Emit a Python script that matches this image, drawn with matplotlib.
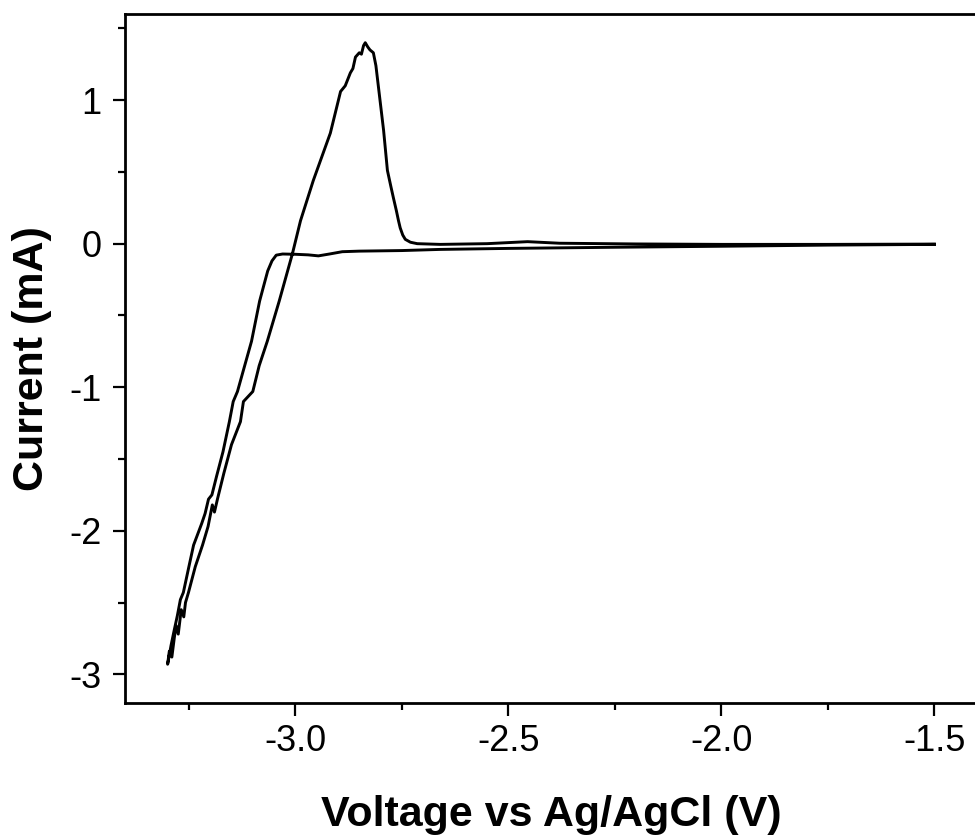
import matplotlib.pyplot as plt
from matplotlib.ticker import MultipleLocator

plt.rcParams['font.family'] = ['Liberation Sans', 'DejaVu Sans']

# cathodic sweep: -1.5 V -> -3.3 V
v_cath = [-1.50, -1.75, -2.00, -2.25, -2.50, -2.66, -2.75, -2.85, -2.89, -2.92,
          -2.946, -2.97, -3.00, -3.03, -3.045, -3.055, -3.065, -3.075, -3.084,
          -3.103, -3.120, -3.136, -3.146, -3.155, -3.170, -3.185, -3.196, -3.204,
          -3.212, -3.220, -3.239, -3.250, -3.263, -3.270, -3.277, -3.285,
          -3.292, -3.298, -3.300]
i_cath = [-0.005, -0.010, -0.018, -0.025, -0.033, -0.040, -0.048, -0.052, -0.056, -0.072,
          -0.085, -0.078, -0.074, -0.072, -0.080, -0.12, -0.19, -0.30, -0.40,
          -0.68, -0.86, -1.03, -1.10, -1.24, -1.45, -1.62, -1.75, -1.78,
          -1.88, -1.95, -2.10, -2.25, -2.43, -2.48, -2.59, -2.70,
          -2.80, -2.90, -2.93]

# anodic sweep: -3.3 V -> -1.5 V
v_anod = [-3.300, -3.296, -3.290, -3.284, -3.280, -3.275, -3.268, -3.262, -3.258,
          -3.251, -3.235, -3.218, -3.205, -3.195, -3.190, -3.183, -3.168, -3.150,
          -3.129, -3.122, -3.100, -3.085, -3.066, -3.038, -3.007, -2.988, -2.958,
          -2.918, -2.894, -2.883, -2.871, -2.865, -2.859, -2.850, -2.845, -2.840,
          -2.836, -2.830, -2.825, -2.817, -2.811, -2.805, -2.799, -2.793, -2.784,
          -2.776, -2.770, -2.763, -2.758, -2.754, -2.748, -2.742, -2.730, -2.714,
          -2.66, -2.55, -2.455, -2.38, -2.20, -2.00, -1.75, -1.50]
i_anod = [-2.93, -2.84, -2.88, -2.74, -2.66, -2.72, -2.55, -2.60, -2.50,
          -2.43, -2.25, -2.10, -1.97, -1.82, -1.87, -1.78, -1.60, -1.40,
          -1.24, -1.10, -1.03, -0.85, -0.68, -0.40, -0.07, 0.16, 0.44,
          0.77, 1.06, 1.10, 1.19, 1.22, 1.30, 1.33, 1.32, 1.38,
          1.40, 1.37, 1.35, 1.33, 1.24, 1.09, 0.94, 0.79, 0.51,
          0.40, 0.32, 0.23, 0.16, 0.11, 0.06, 0.03, 0.01, 0.00,
          -0.005, 0.0, 0.014, 0.003, -0.002, -0.005, -0.005, -0.003]

fig = plt.figure(figsize=(9.75, 8.4), dpi=100)
ax = fig.add_axes([125 / 975, 137 / 840, 852 / 975, 689 / 840])

ax.plot(v_cath + v_anod, i_cath + i_anod, color='black', lw=2.1,
        solid_joinstyle='round')

ax.set_xlim(-3.4, -1.4)
ax.set_ylim(-3.2, 1.6)
ax.xaxis.set_major_locator(MultipleLocator(0.5))
ax.xaxis.set_minor_locator(MultipleLocator(0.25))
ax.yaxis.set_major_locator(MultipleLocator(1))
ax.yaxis.set_minor_locator(MultipleLocator(0.5))
ax.xaxis.set_major_formatter(plt.FuncFormatter(lambda v, p: f'{v:.1f}'))
ax.yaxis.set_major_formatter(plt.FuncFormatter(lambda v, p: f'{v:.0f}'))

ax.tick_params(which='major', length=9, width=1.6, labelsize=26, direction='out')
ax.tick_params(axis='y', which='major', pad=8)
ax.tick_params(axis='x', which='major', pad=6)
ax.tick_params(which='minor', length=5, width=1.6, direction='out')
for s in ax.spines.values():
    s.set_linewidth(2)

ax.set_xlabel('Voltage vs Ag/AgCl (V)', fontsize=31, fontweight='bold', labelpad=26)
ax.set_ylabel('Current (mA)', fontsize=31, fontweight='bold', labelpad=12)

plt.savefig('out.png', dpi=100, facecolor='white')
